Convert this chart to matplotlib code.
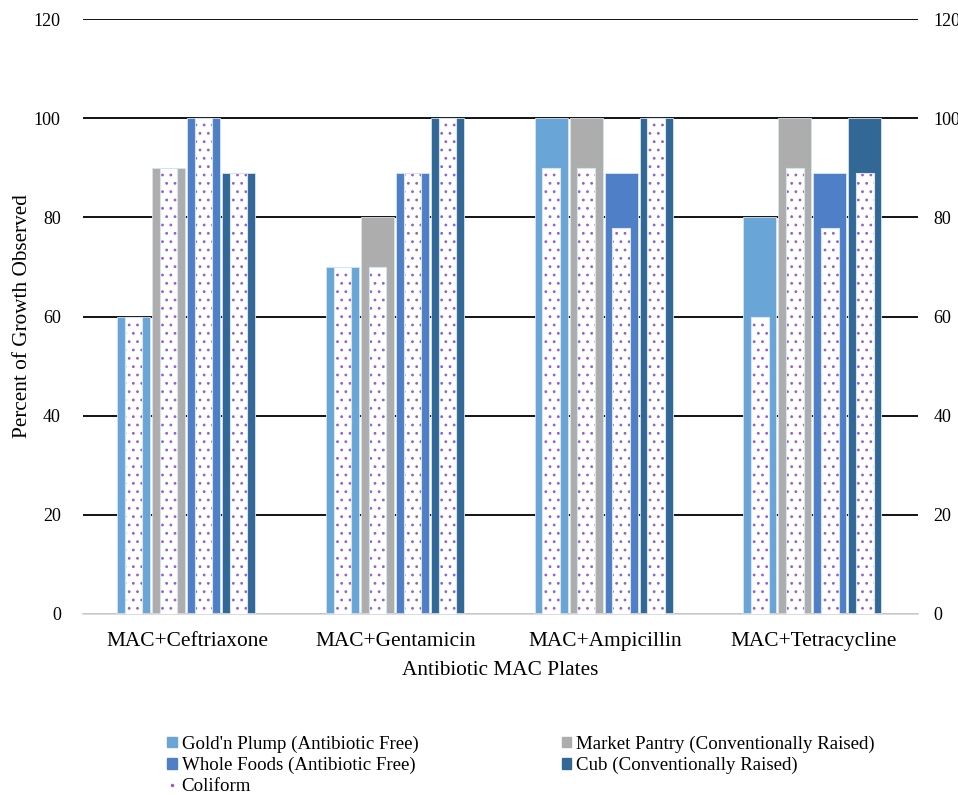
import matplotlib.pyplot as plt
import numpy as np
from matplotlib.lines import Line2D

plt.rcParams['font.family'] = ['Liberation Serif', 'DejaVu Serif']
plt.rcParams['hatch.linewidth'] = 0.8

plates = ['MAC+Ceftriaxone', 'MAC+Gentamicin', 'MAC+Ampicillin', 'MAC+Tetracycline']
brands = ["Gold'n Plump (Antibiotic Free)", 'Market Pantry (Conventionally Raised)',
          'Whole Foods (Antibiotic Free)', 'Cub (Conventionally Raised)']
colors = ['#6AA5D8', '#ADADAD', '#4F7FC6', '#326896']

# total growth per brand, one value per plate
goldn = [60, 70, 100, 80]
market = [90, 80, 100, 100]
whole = [100, 88.9, 88.9, 88.9]
cub = [88.9, 100, 100, 100]
# coliform growth per brand
goldn_coli = [60, 70, 90, 60]
market_coli = [90, 70, 90, 90]
whole_coli = [100, 88.9, 77.8, 77.8]
cub_coli = [88.9, 100, 100, 88.9]

totals = [goldn, market, whole, cub]
coliform = [goldn_coli, market_coli, whole_coli, cub_coli]

fig = plt.figure(figsize=(9.58, 7.95), dpi=100)
ax = fig.add_axes([83/958, 1-614/795, 835/958, 595/795])

x = np.arange(len(plates))
step = 0.168
width = 0.158
cwidth = 0.084
for i in range(4):
    pos = x + (i - 1.5) * step - 0.006
    ax.bar(pos, totals[i], width, color=colors[i], edgecolor='#D6E4F2',
           linewidth=0.6, zorder=2)
    # dotted coliform bar on top: white fill, purple dots, pale outline
    ax.bar(pos, coliform[i], cwidth, color='white', edgecolor='#9A5BD0',
           linewidth=0, hatch='..', zorder=3)
    ax.bar(pos, coliform[i], cwidth, fill=False, edgecolor='#D6E4F2',
           linewidth=0.8, zorder=4)

ax.set_xlim(-0.5, 3.5)
ax.set_ylim(0, 120)
ax.set_yticks(range(0, 121, 20))
ax.yaxis.grid(True, color='black', linewidth=1.3, zorder=0)
ax.set_axisbelow(True)
for s in ['top', 'left', 'right']:
    ax.spines[s].set_visible(False)
ax.spines['bottom'].set_color('#D9D9D9')
ax.spines['bottom'].set_linewidth(1.3)
ax.tick_params(axis='both', length=0, colors='black')
ax.tick_params(axis='y', labelsize=13, pad=16)
ax.tick_params(axis='x', labelsize=15.4, pad=13)
ax.set_xticks(x)
ax.set_xticklabels(plates)
ax.set_xlabel('Antibiotic MAC Plates', fontsize=15.3, labelpad=7)
ax.set_ylabel('Percent of Growth Observed', fontsize=15.3)
ax.yaxis.set_label_coords(-0.061, 0.5)

ax2 = ax.twinx()
ax2.set_ylim(0, 120)
ax2.set_yticks(range(0, 121, 20))
ax2.tick_params(axis='y', length=0, labelsize=13, pad=11)
for s in ax2.spines.values():
    s.set_visible(False)

handles = [plt.Rectangle((0, 0), 1, 1, color=c) for c in colors]
coli_handle = Line2D([], [], linestyle='none', marker='.', markersize=3,
                     color='#9A5BD0')
order = [handles[0], handles[2], coli_handle, handles[1], handles[3]]
labels = [brands[0], brands[2], 'Coliform', brands[1], brands[3]]
fig.legend(order, labels, ncol=2, loc='upper left', bbox_to_anchor=(158/958, 1-726/795),
           frameon=False, fontsize=13.6, handlelength=0.5, handleheight=0.5,
           handletextpad=0.25, labelspacing=0.22, columnspacing=7.6, borderpad=0)

fig.savefig('out.png', dpi=100)
